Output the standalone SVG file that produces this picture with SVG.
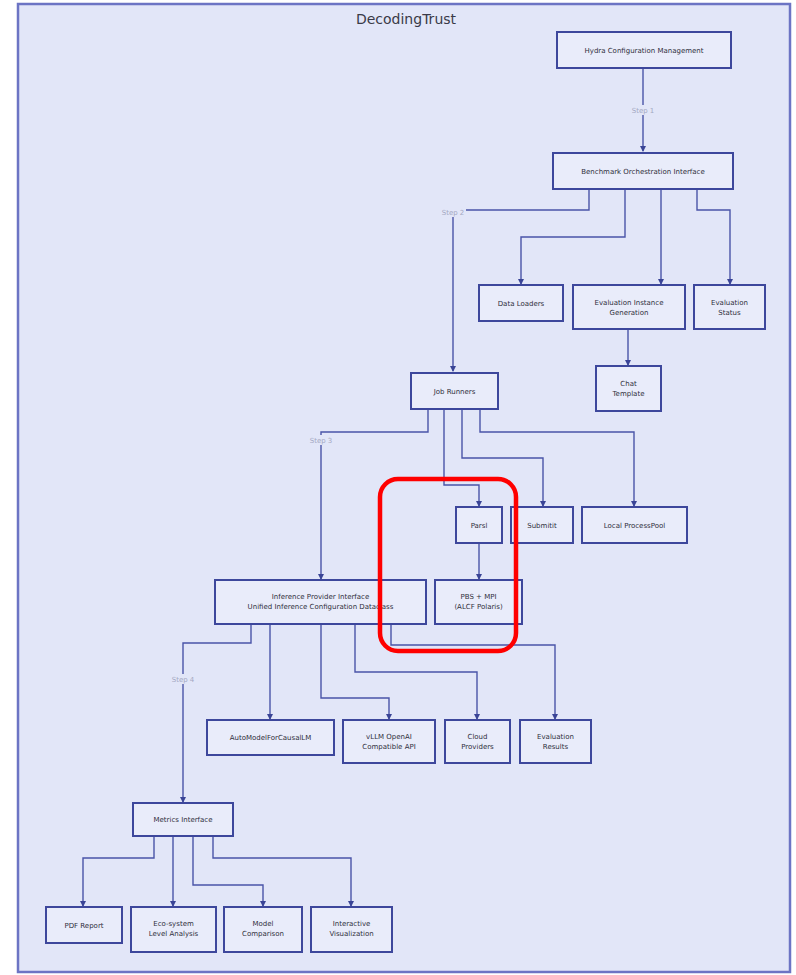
<svg xmlns="http://www.w3.org/2000/svg" width="796" height="975" viewBox="0 0 796 975">
  <defs>
    <marker id="arr" viewBox="0 0 6 6" refX="5" refY="3" markerWidth="6" markerHeight="6" markerUnits="userSpaceOnUse" orient="auto">
      <path d="M0,0 L6,3 L0,6 z" fill="#3a4496"/>
    </marker>
    <style>
      .frame { fill: #e2e6f8; stroke: #6c74c4; stroke-width: 2.5; }
      .node rect { fill: #e9ecfa; stroke: #3d479c; stroke-width: 2; }
      .node text { font-family: "DejaVu Sans", sans-serif; font-size: 7px; fill: #2f2f3a; text-anchor: middle; }
      .edges path { fill: none; stroke: #4a54a8; stroke-width: 1.4; marker-end: url(#arr); }
      .step { font-family: "DejaVu Sans", sans-serif; font-size: 7px; fill: #a4a8c2; text-anchor: middle; }
      .title { font-family: "DejaVu Sans", sans-serif; font-size: 14px; fill: #3a3a48; text-anchor: middle; }
      .mark { fill: none; stroke: #ff0000; stroke-width: 4.5; }
    </style>
  </defs>

  <rect width="796" height="975" fill="#ffffff"/>
  <rect class="frame" x="18" y="4" width="772" height="968"/>
  <text class="title" x="406" y="24">DecodingTrust</text>

  <!-- connectors -->
  <g class="edges">
    <path d="M643,68 V151"/>
    <path d="M589,189 V210 H453 V371"/>
    <path d="M625,189 V237 H521 V284"/>
    <path d="M661,189 V284"/>
    <path d="M697,189 V210 H730 V284"/>
    <path d="M628,329 V365"/>
    <path d="M428,409 V432 H321 V579"/>
    <path d="M444,409 V485 H479 V506"/>
    <path d="M462,409 V458 H543 V506"/>
    <path d="M480,409 V432 H634 V506"/>
    <path d="M479,543 V579"/>
    <path d="M251,624 V643 H183 V802"/>
    <path d="M270,624 V719"/>
    <path d="M321,624 V698 H389 V719"/>
    <path d="M355,624 V672 H477 V719"/>
    <path d="M391,624 V645 H555 V719"/>
    <path d="M154,836 V858 H83 V906"/>
    <path d="M173,836 V906"/>
    <path d="M193,836 V885 H263 V906"/>
    <path d="M213,836 V858 H351 V906"/>
  </g>

  <!-- step labels -->
  <g>
    <rect x="630" y="105" width="26" height="10" fill="#e2e6f8"/>
    <text class="step" x="643" y="113">Step 1</text>
    <rect x="440" y="207" width="26" height="10" fill="#e2e6f8"/>
    <text class="step" x="453" y="215">Step 2</text>
    <rect x="308" y="435" width="26" height="10" fill="#e2e6f8"/>
    <text class="step" x="321" y="443">Step 3</text>
    <rect x="170" y="674" width="26" height="10" fill="#e2e6f8"/>
    <text class="step" x="183" y="682">Step 4</text>
  </g>

  <!-- nodes -->
  <g id="hydra" class="node"><rect x="557" y="32" width="174" height="36"/><text x="644" y="52.5">Hydra Configuration Management</text></g>
  <g id="benchmark" class="node"><rect x="553" y="153" width="180" height="36"/><text x="643" y="173.5">Benchmark Orchestration Interface</text></g>
  <g id="data-loaders" class="node"><rect x="479" y="285" width="84" height="36"/><text x="521" y="305.5">Data Loaders</text></g>
  <g id="eval-instance" class="node"><rect x="573" y="285" width="112" height="44"/><text x="629" y="305">Evaluation Instance</text><text x="629" y="315">Generation</text></g>
  <g id="eval-status" class="node"><rect x="694" y="285" width="71" height="44"/><text x="729.5" y="305">Evaluation</text><text x="729.5" y="315">Status</text></g>
  <g id="chat-template" class="node"><rect x="596" y="366" width="65" height="45"/><text x="628.5" y="386">Chat</text><text x="628.5" y="396">Template</text></g>
  <g id="job-runners" class="node"><rect x="411" y="373" width="87" height="36"/><text x="454.5" y="393.5">Job Runners</text></g>
  <g id="parsl" class="node"><rect x="456" y="507" width="46" height="36"/><text x="479" y="527.5">Parsl</text></g>
  <g id="submitit" class="node"><rect x="511" y="507" width="62" height="36"/><text x="542" y="527.5">Submitit</text></g>
  <g id="local-pool" class="node"><rect x="582" y="507" width="105" height="36"/><text x="634.5" y="527.5">Local ProcessPool</text></g>
  <g id="inference" class="node"><rect x="215" y="580" width="211" height="44"/><text x="320.5" y="599">Inference Provider Interface</text><text x="320.5" y="609">Unified Inference Configuration Dataclass</text></g>
  <g id="pbs-mpi" class="node"><rect x="435" y="580" width="87" height="44"/><text x="478.5" y="599">PBS + MPI</text><text x="478.5" y="609">(ALCF Polaris)</text></g>
  <g id="automodel" class="node"><rect x="207" y="720" width="127" height="35"/><text x="270.5" y="740">AutoModelForCausalLM</text></g>
  <g id="vllm" class="node"><rect x="343" y="720" width="92" height="43"/><text x="389" y="739">vLLM OpenAI</text><text x="389" y="749">Compatible API</text></g>
  <g id="cloud" class="node"><rect x="445" y="720" width="65" height="43"/><text x="477.5" y="739">Cloud</text><text x="477.5" y="749">Providers</text></g>
  <g id="eval-results" class="node"><rect x="520" y="720" width="71" height="43"/><text x="555.5" y="739">Evaluation</text><text x="555.5" y="749">Results</text></g>
  <g id="metrics" class="node"><rect x="133" y="803" width="100" height="33"/><text x="183" y="822">Metrics Interface</text></g>
  <g id="pdf-report" class="node"><rect x="46" y="907" width="76" height="36"/><text x="84" y="927.5">PDF Report</text></g>
  <g id="eco-system" class="node"><rect x="131" y="907" width="85" height="45"/><text x="173.5" y="926">Eco-system</text><text x="173.5" y="936">Level Analysis</text></g>
  <g id="model-comparison" class="node"><rect x="224" y="907" width="78" height="45"/><text x="263" y="926">Model</text><text x="263" y="936">Comparison</text></g>
  <g id="interactive-vis" class="node"><rect x="311" y="907" width="81" height="45"/><text x="351.5" y="926">Interactive</text><text x="351.5" y="936">Visualization</text></g>

  <!-- red highlight around the Parsl / PBS + MPI pair -->
  <rect class="mark" x="380" y="479" width="136" height="172" rx="18" ry="18"/>
</svg>
